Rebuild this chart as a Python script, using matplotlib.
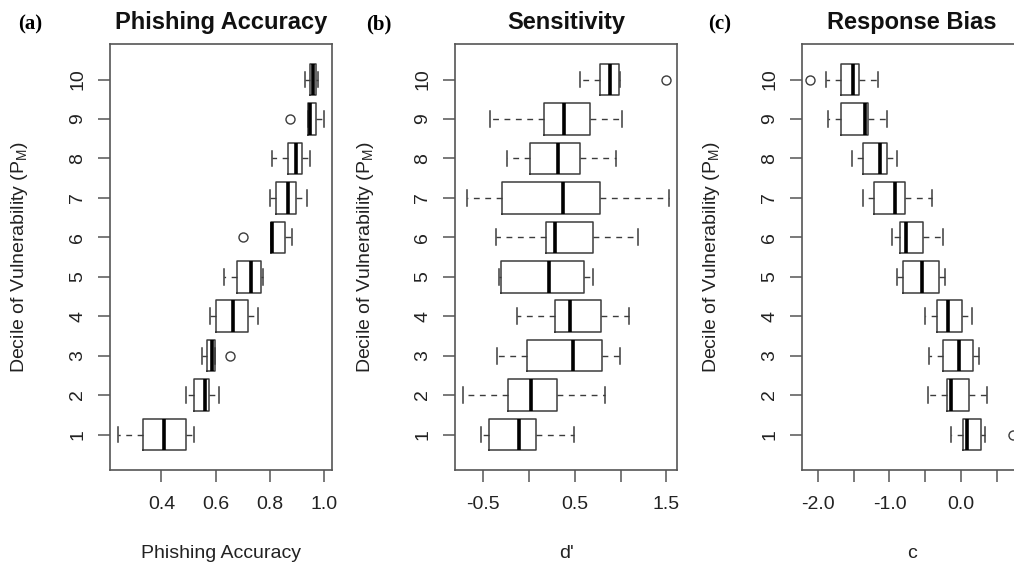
import matplotlib.pyplot as plt
import numpy as np

plt.rcParams['font.family'] = ['Liberation Sans', 'DejaVu Sans']

deciles = list(range(1, 11))

# phishing accuracy, decile 1..10
acc_whislo = [0.24, 0.49, 0.55, 0.58, 0.63, 0.805, 0.80, 0.81, 0.94, 0.93]
acc_q1 = [0.33, 0.52, 0.57, 0.60, 0.68, 0.805, 0.825, 0.866, 0.943, 0.95]
acc_med = [0.41, 0.56, 0.587, 0.666, 0.731, 0.81, 0.866, 0.899, 0.948, 0.96]
acc_q3 = [0.49, 0.575, 0.596, 0.718, 0.768, 0.857, 0.899, 0.918, 0.97, 0.97]
acc_whishi = [0.52, 0.614, 0.596, 0.758, 0.776, 0.884, 0.937, 0.948, 1.00, 0.98]
acc_fliers = {3: [0.655], 6: [0.70], 9: [0.875]}

# sensitivity d'
dp_whislo = [-0.53, -0.72, -0.354, -0.135, -0.328, -0.361, -0.675, -0.237, -0.427, 0.551]
dp_q1 = [-0.434, -0.234, -0.026, 0.285, -0.307, 0.182, -0.299, 0.011, 0.164, 0.777]
dp_med = [-0.109, 0.018, 0.478, 0.442, 0.219, 0.285, 0.369, 0.314, 0.376, 0.887]
dp_q3 = [0.073, 0.31, 0.796, 0.785, 0.595, 0.697, 0.777, 0.558, 0.668, 0.978]
dp_whishi = [0.485, 0.832, 0.989, 1.095, 0.697, 1.186, 1.526, 0.953, 1.015, 0.989]
dp_fliers = {10: [1.50]}

# response bias c
c_whislo = [-0.139, -0.463, -0.449, -0.505, -0.898, -0.958, -1.366, -1.528, -1.861, -1.884]
c_q1 = [0.028, -0.194, -0.255, -0.333, -0.806, -0.856, -1.222, -1.366, -1.676, -1.676]
c_med = [0.083, -0.148, -0.032, -0.185, -0.542, -0.773, -0.921, -1.130, -1.338, -1.514]
c_q3 = [0.282, 0.106, 0.162, 0.014, -0.310, -0.528, -0.787, -1.028, -1.306, -1.421]
c_whishi = [0.338, 0.361, 0.245, 0.153, -0.231, -0.250, -0.403, -0.889, -1.028, -1.157]
c_fliers = {1: [0.72], 10: [-2.106]}

acc_ticks = [0.4, 0.6, 0.8, 1.0]
acc_ticklabels = ['0.4', '0.6', '0.8', '1.0']
dp_ticks = [-0.5, 0.0, 0.5, 1.0, 1.5]
dp_ticklabels = ['-0.5', '', '0.5', '', '1.5']
c_ticks = [-2.0, -1.5, -1.0, -0.5, 0.0, 0.5]
c_ticklabels = ['-2.0', '', '-1.0', '', '0.0', '']

W, H = 1014, 565


def make_stats(whislo, q1, med, q3, whishi, fliers):
    out = []
    for i, d in enumerate(deciles):
        out.append(dict(whislo=whislo[i], q1=q1[i], med=med[i], q3=q3[i],
                        whishi=whishi[i], fliers=fliers.get(d, [])))
    return out


def panel(ax, stats, ticks, ticklabels, xlabel, title):
    lc = '#3c3c3c'
    ax.bxp(stats, positions=deciles, widths=0.8, orientation='horizontal',
           boxprops=dict(color=lc, linewidth=1.1),
           medianprops=dict(color='black', linewidth=2.6, solid_capstyle='butt'),
           whiskerprops=dict(color=lc, linewidth=1.0, linestyle=(0, (4.2, 4.0))),
           capprops=dict(color=lc, linewidth=1.1),
           flierprops=dict(marker='o', markersize=6.5, markerfacecolor='none',
                           markeredgecolor=lc, markeredgewidth=1.0))
    vals = [v for s in stats for v in (s['whislo'], s['whishi'], *s['fliers'])]
    lo, hi = min(vals), max(vals)
    pad = 0.04 * (hi - lo)
    ax.set_xlim(lo - pad, hi + pad)
    ax.set_ylim(0.1, 10.9)
    ax.set_xticks(ticks)
    ax.set_xticklabels(ticklabels)
    ax.set_yticks(deciles)
    ax.set_yticklabels([str(d) for d in deciles], rotation=90, va='center')
    ax.tick_params(axis='x', length=8.5, width=1.1, color='#555555', pad=10.5,
                   labelsize=14, labelcolor='#222222')
    ax.tick_params(axis='y', length=8.5, width=1.1, color='#555555', pad=8.5,
                   labelsize=14, labelcolor='#222222')
    for s in ax.spines.values():
        s.set_color('#555555')
        s.set_linewidth(1.2)
    ax.set_xlabel(xlabel, fontsize=14, color='#222222')
    ax.xaxis.set_label_coords(0.5, -83 / 426)
    ax.xaxis.label.set_va('center')
    ax.set_ylabel(r'Decile of Vulnerability (P$_\mathregular{M}$)', fontsize=14,
                  color='#222222')
    ax.yaxis.set_label_coords(-90 / (ax.get_position().width * W), 0.5)
    ax.yaxis.label.set_va('center')
    ax.text(0.5, 1 + 21 / 426, title, transform=ax.transAxes, ha='center',
            va='center', fontsize=17, fontweight='bold', color='#111111')


fig = plt.figure(figsize=(W / 100, H / 100), dpi=100)

boxes_px = [(110, 332), (455, 677), (802, 1021)]
top_px, bot_px = 44, 470
axes = []
for x0, x1 in boxes_px:
    axes.append(fig.add_axes([x0 / W, (H - bot_px) / H, (x1 - x0) / W,
                              (bot_px - top_px) / H]))

panel(axes[0], make_stats(acc_whislo, acc_q1, acc_med, acc_q3, acc_whishi, acc_fliers),
      acc_ticks, acc_ticklabels, 'Phishing Accuracy', 'Phishing Accuracy')
panel(axes[1], make_stats(dp_whislo, dp_q1, dp_med, dp_q3, dp_whishi, dp_fliers),
      dp_ticks, dp_ticklabels, "d'", 'Sensitivity')
panel(axes[2], make_stats(c_whislo, c_q1, c_med, c_q3, c_whishi, c_fliers),
      c_ticks, c_ticklabels, 'c', 'Response Bias')

for lab, x in zip(['(a)', '(b)', '(c)'], [30, 379, 720]):
    fig.text(x / W, 1 - 24 / H, lab, ha='center', va='center', fontsize=15,
             fontweight='bold', family=['Liberation Serif', 'DejaVu Serif'])

fig.savefig('out.png', dpi=100)
